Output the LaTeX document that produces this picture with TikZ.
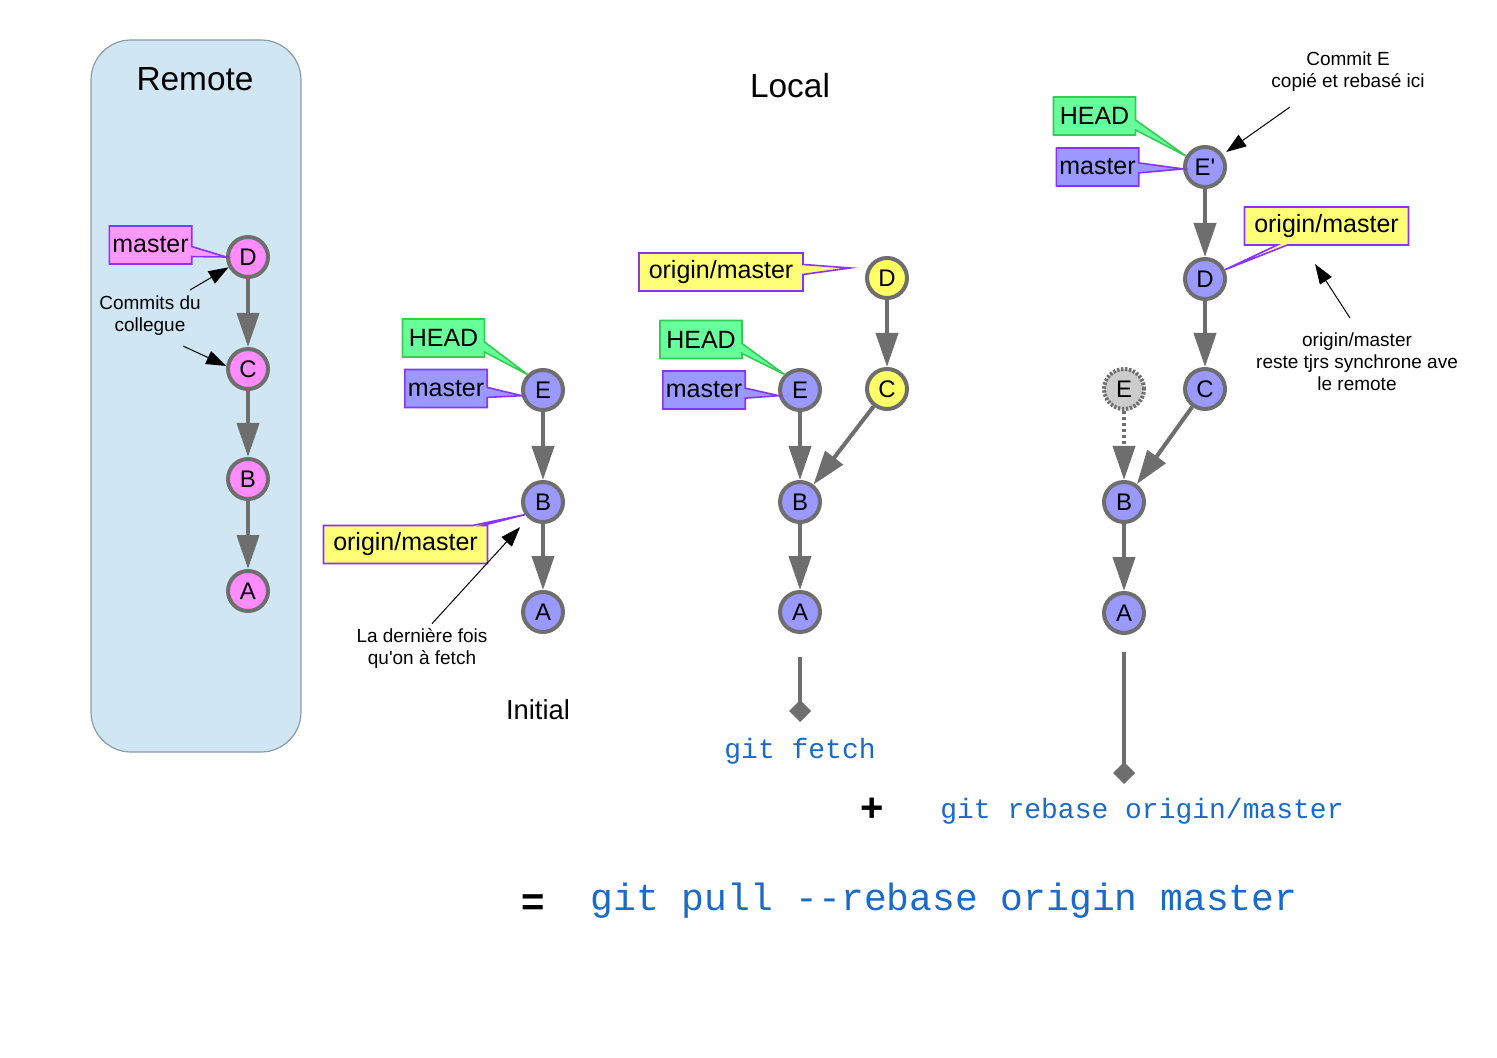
\documentclass[tikz,border=0pt]{standalone}
\usepackage{fontspec}
\setmainfont{Liberation Sans}
\setmonofont{Liberation Mono}
\usepackage{xcolor}
\definecolor{gtgray}{HTML}{6E6E6E}
\definecolor{gtpink}{HTML}{FF8CFF}
\definecolor{gtpinktag}{HTML}{FF99FF}
\definecolor{gtblue}{HTML}{9999FF}
\definecolor{gtyellow}{HTML}{FFFF66}
\definecolor{gtyellowtag}{HTML}{FFFF77}
\definecolor{gtghost}{HTML}{CCCCCC}
\definecolor{gtgreen}{HTML}{66FF99}
\definecolor{gtgreenline}{HTML}{33CC55}
\definecolor{gtviolet}{HTML}{8833FF}
\definecolor{gtremote}{HTML}{D0E6F3}
\definecolor{gtremoteline}{HTML}{8C9BA6}
\definecolor{gtcmd}{HTML}{1B6AC9}
\usepackage{tikz}
\usetikzlibrary{arrows.meta,calc,shapes.callouts}
\tikzset{
  gtcommit/.style   ={circle, draw=gtgray, line width=2pt, minimum size=20pt,
                      inner sep=0pt, fill=gtblue, font=\fontsize{12}{13}\selectfont},
  gtremotec/.style  ={gtcommit, fill=gtpink},
  gtnewc/.style     ={gtcommit, fill=gtyellow},
  gtghostc/.style   ={gtcommit, fill=gtghost, dash pattern=on 1.2pt off 0.8pt},
  gttag/.style      ={rectangle callout, draw=gtviolet, line width=0.8pt,
                      minimum height=19pt, inner xsep=1.5pt, inner ysep=0pt,
                      callout pointer width=5pt, font=\fontsize{12.5}{14}\selectfont},
  gthead/.style     ={gttag, fill=gtgreen, draw=gtgreenline, minimum width=41pt},
  gtmaster/.style   ={gttag, fill=gtblue, minimum width=41pt},
  gtrmaster/.style  ={gttag, fill=gtpinktag, minimum width=41pt},
  gtorigin/.style   ={gttag, fill=gtyellowtag, minimum width=82pt},
  gtedge/.style     ={-{Triangle[length=17pt,width=11pt]}, line width=2pt, draw=gtgray},
  gtghostedge/.style={gtedge, dash pattern=on 1.5pt off 1.5pt},
  gtpin/.style      ={-{Diamond[length=11pt,width=11pt]}, line width=2pt, draw=gtgray},
  gtnote/.style     ={-{Triangle[length=10pt,width=7pt]}, line width=0.5pt, draw=black},
  gtnotetxt/.style  ={font=\fontsize{9.5}{11}\selectfont, align=center, inner sep=0pt},
  gttitle/.style    ={font=\fontsize{16.7}{18}\selectfont},
  gtcmdtxt/.style   ={font=\ttfamily\fontsize{14}{16}\selectfont, text=gtcmd},
  gtremotebox/.style={draw=gtremoteline, fill=gtremote, line width=0.6pt, rounded corners=20pt},
}

\begin{document}
\begin{tikzpicture}[x=0.5pt,y=-0.5pt]
  \useasboundingbox (0,0) rectangle (1497,1058);
  % remote
  \draw[gtremotebox] (91,40) rectangle (301,752);
  \node[gttitle] (remote) at (195,79) {Remote};
  \node[gtremotec] (rD) at (248,257) {D};
  \node[gtremotec] (rC) at (248,369) {C};
  \node[gtremotec] (rB) at (248,479) {B};
  \node[gtremotec] (rA) at (248,591) {A};
  \node[gtrmaster, callout absolute pointer={(rD.west)}] (rmaster) at (150.5,245) {master};
  \node[gtnotetxt] (colnote) at (150,316) {Commits du\\collegue};
  \coordinate (colD) at (190,290);
  \coordinate (colC) at (183,346);
  \draw[gtnote] (colD) -- (rD.208);
  \draw[gtnote] (colC) -- (rC.172);
  % initial
  \node[gttitle] (local) at (790,86) {Local};
  \node[gtcommit] (iE) at (543,390) {E};
  \node[gtcommit] (iB) at (543,502) {B};
  \node[gtcommit] (iA) at (543,612) {A};
  \node[gthead, callout absolute pointer={(iE.north west)}] (ihead) at (443.5,338) {HEAD};
  \node[gtmaster, callout absolute pointer={(iE.195)}] (imaster) at (446,388.5) {master};
  \node[gtorigin, callout absolute pointer={(iB.215)}] (iorigin) at (405.5,544.5) {origin/master};
  \node[gtnotetxt] (fetchnote) at (422,648) {La dernière fois\\qu\textquotesingle on à fetch};
  \draw[gtnote, shorten >=6pt] ($(fetchnote.north)+(10,-4)$) -- (iB);
  \node[font=\fontsize{13.7}{15}\selectfont] (initial) at (538,710) {Initial};
  % after fetch
  \node[gtcommit] (mE) at (800,390) {E};
  \node[gtcommit] (mB) at (800,502) {B};
  \node[gtcommit] (mA) at (800,612) {A};
  \node[gtnewc] (mD) at (887,278) {D};
  \node[gtnewc] (mC) at (887,389) {C};
  \node[gtorigin, callout absolute pointer={($(mD.west)+(-15,-10)$)}] (morigin) at (721,272) {origin/master};
  \node[gthead, callout absolute pointer={(mE.north west)}] (mhead) at (701,339.5) {HEAD};
  \node[gtmaster, callout absolute pointer={(mE.195)}] (mmaster) at (704,390) {master};
  \coordinate (fetchtop) at (800,657);
  \coordinate (fetchend) at (800,722);
  \draw[gtpin] (fetchtop) -- (fetchend);
  \node[gtcmdtxt] (fetch) at (800,751) {git fetch};
  % after rebase
  \node[gtcommit] (nE) at (1205,167) {E\textquotesingle};
  \node[gtcommit] (nD) at (1205,279) {D};
  \node[gtcommit] (nC) at (1205,389) {C};
  \node[gtcommit] (nB) at (1124,502) {B};
  \node[gtcommit] (nA) at (1124,613) {A};
  \node[gtghostc] (gE) at (1124,389) {E};
  \node[gthead, callout absolute pointer={(nE.150)}] (nhead) at (1094.5,116) {HEAD};
  \node[gtmaster, callout absolute pointer={(nE.185)}] (nmaster) at (1097.5,167) {master};
  \node[gtorigin, callout absolute pointer={(nD.25)}] (norigin) at (1326.5,226) {origin/master};
  \node[gtnotetxt] (copynote) at (1348,72) {Commit E\\copié et rebasé ici};
  \coordinate (copyA) at (1290,107);
  \draw[gtnote, shorten >=2pt] (copyA) -- (nE);
  \node[gtnotetxt] (syncnote) at (1357,362) {origin/master\\reste tjrs synchrone ave\\le remote};
  \coordinate (syncA) at (1350,318);
  \coordinate (syncB) at (1315,264);
  \draw[gtnote] (syncA) -- (syncB);
  \coordinate (rebasetop) at (1124,652);
  \coordinate (rebaseend) at (1124,784);
  \draw[gtpin] (rebasetop) -- (rebaseend);
  \node[font=\bfseries\fontsize{20}{20}\selectfont] (plus) at (872,810) {+};
  \node[gtcmdtxt] (rebase) at (1142,811) {git rebase origin/master};
  \node[font=\bfseries\fontsize{20}{20}\selectfont] (equals) at (533,905) {=};
  \node[gtcmdtxt, font=\ttfamily\fontsize{19}{21}\selectfont] (pull) at (944,901) {git pull --rebase origin master};
  % history edges
  \foreach \a/\b in {rD/rC,rC/rB,rB/rA,iE/iB,iB/iA,mE/mB,mB/mA,mD/mC,mC/mB,nE/nD,nD/nC,nC/nB,nB/nA}
    \draw[gtedge] (\a) -- (\b);
  \draw[gtghostedge] (gE) -- (nB);
\end{tikzpicture}
\end{document}
